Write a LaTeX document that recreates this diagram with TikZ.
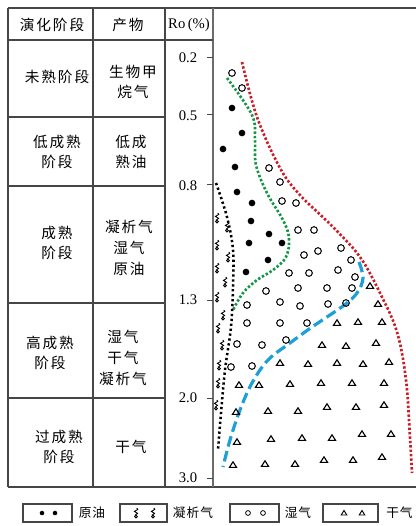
\documentclass[tikz,border=0pt]{standalone}
\usepackage{fontspec}
\setmainfont{Liberation Serif}
\newfontfamily\cjk[LetterSpace=13]{Noto Sans CJK SC}
\newfontfamily\cjkleg[LetterSpace=8]{Noto Sans CJK SC}
\definecolor{rd}{RGB}{200,30,40}
\definecolor{gn}{RGB}{20,150,70}
\definecolor{bl}{RGB}{30,160,215}
\definecolor{ln}{RGB}{70,70,70}
\begin{document}
\begin{tikzpicture}[x=0.75pt,y=-0.75pt,
  grid/.style={draw=ln, line width=1pt},
  cell/.style={font=\cjk\fontsize{11}{15.5}\selectfont, align=center, inner sep=0},
  legtext/.style={font=\cjkleg\fontsize{9.5}{10}\selectfont, inner sep=0},
  num/.style={font=\fontsize{11}{12}\selectfont, inner sep=0},
  dotline/.style={line width=2pt, dash pattern=on 1.8pt off 1.5pt},
  legbox/.style={draw=ln, line width=0.8pt},
  oilpt/.pic={\fill[black] (0,0) circle (2.5pt);},
  wetpt/.pic={\draw[line width=0.75pt] (0,0) circle (2.5pt);},
  drypt/.pic={\draw[line width=0.85pt, line join=miter] (-3.6,2.4) -- (3.6,2.4) -- (0,-3.2) -- cycle;},
  condpt/.pic={\draw[line width=0.65pt] (0.8,-5) -- (1.8,-3.6) -- (-1.6,-1.6) -- (1.6,0.4) -- (-1.2,2.4);
               \draw[line width=0.65pt] (0,3.6) circle (1.1pt);},
  oilleg/.pic={\fill[black] (0,0) circle (1.7pt);},
  wetleg/.pic={\draw[line width=0.6pt] (0,0) circle (1.8pt);},
  dryleg/.pic={\draw[line width=0.7pt, line join=miter] (-2.8,2) -- (2.8,2) -- (0,-2.5) -- cycle;}
]
\useasboundingbox (0,0) rectangle (416,526);

% table frame
\draw[grid] (8,8) -- (416,8);
\draw[grid] (8,487) -- (416,487);
\draw[grid] (8,8) -- (8,487);
\draw[grid] (93,8) -- (93,487);
\draw[grid] (165,8) -- (165,487);
\draw[draw=ln!80, line width=1.4pt] (213,8) -- (213,487);
\draw[grid] (8,40) -- (213,40);
\foreach \yy in {117,186,303,398} \draw[grid] (8,\yy) -- (165,\yy);

% header
\node[cell] (h1) at (52,25) {演化阶段};
\node[cell] (h2) at (128,25) {产物};
\node[num] (h3) at (189,25) {Ro\,(\%)};

% stages
\node[cell] (s1) at (57,77) {未熟阶段};
\node[cell] (s2) at (57,152) {低成熟\\阶段};
\node[cell] (s3) at (57,243) {成熟\\阶段};
\node[cell] (s4) at (50,353) {高成熟\\阶段};
\node[cell] (s5) at (59,447) {过成熟\\阶段};

% products
\node[cell] (p1) at (133,82) {生物甲\\烷气};
\node[cell] (p2) at (131,152) {低成\\熟油};
\node[cell] (p3) at (129,248) {凝析气\\湿气\\原油};
\node[cell] (p4) at (123,358) {湿气\\干气\\凝析气};
\node[cell] (p5) at (131,447) {干气};

% Ro axis
\foreach \yt/\yl/\v [count=\i] in {57/58/0.2, 114/116/0.5, 184/186/0.8, 300/300/1.3, 398/398/2.0, 478/478/3.0} {
  \draw[draw=ln, line width=0.7pt] (207,\yt) -- (213,\yt);
  \node[num] (ro\i) at (188,\yl) {\v};
}

% curves
\draw[rd, dotline] plot[smooth, tension=0.6] coordinates {(242,62) (257,117) (280,168) (300,195) (333,227) (360,257) (380,293) (397,332) (406,380) (410,437) (412,473)};
\draw[gn, dotline] plot[smooth, tension=0.6] coordinates {(227,78) (252,115) (255,140) (256,165) (267,193) (283,220) (289,238) (286,257) (273,270) (257,280) (243,293) (233,310)};
\draw[black, line width=1.9pt, dash pattern=on 1.7pt off 2pt] plot[smooth, tension=0.6] coordinates {(216,183) (227,217) (233,250) (233,287) (231,327) (225,370) (221,413) (218,450)};
\draw[bl, line width=2.4pt, dash pattern=on 8pt off 3.5pt] plot[smooth, tension=0.6] coordinates {(359,262) (363,278) (357,293) (343,306) (312,327) (290,343) (268,360) (252,383) (240,410) (230,440) (223,467)};

% oil
\foreach \p in {(232,108),(242,133),(223,149),(235,167),(237,192),(252,203),(251,221),(249,243),(269,234),(282,243),(268,260),(246,272)}
  \pic at \p {oilpt};
% wet gas
\foreach \p in {(232,73),(242,88),(269,168),(280,182),(282,201),(296,203),(298,230),(314,230),(304,255),(318,251),(341,248),(351,260),(289,273),(309,273),(338,270),(355,277),(298,288),(327,288),(352,288),(266,291),(247,305),(280,302),(300,306),(328,304),(346,303),(247,323),(280,323),(307,323),(237,344),(262,345),(286,340),(231,367),(252,366)}
  \pic at \p {wetpt};
% dry gas
\foreach \p in {(370,286),(378,304),(337,323),(358,322),(382,322),(322,345),(346,346),(376,343),(280,363),(308,364),(337,363),(363,364),(389,362),(239,385),(259,385),(290,384),(321,383),(352,383),(384,383),(236,412),(268,411),(298,411),(327,407),(356,407),(384,405),(237,442),(271,439),(302,438),(332,438),(362,434),(391,434),(233,465),(265,464),(295,464),(324,460),(353,460),(382,457)}
  \pic at \p {drypt};
% condensate
\foreach \p in {(217,218),(227,227),(217,245),(228,257),(217,268),(225,282),(217,297),(223,315),(218,328),(222,345),(219,365),(218,383),(216,405)}
  \pic at \p {condpt};

% legend
\draw[legbox] (23,504) rectangle (72,522);
\pic at (42,513) {oilleg}; \pic at (55,513) {oilleg};
\node[legtext] (l1) at (92,513) {原油};
\draw[legbox] (120,504) rectangle (167,522);
\pic at (136,513) {condpt}; \pic at (153,513) {condpt};
\node[legtext] (l2) at (193,513) {凝析气};
\draw[legbox] (230,504) rectangle (279,522);
\pic at (248,513) {wetleg}; \pic at (263,513) {wetleg};
\node[legtext] (l3) at (298,513) {湿气};
\draw[legbox] (323,504) rectangle (378,522);
\pic at (344,513) {dryleg}; \pic at (362,513) {dryleg};
\node[legtext, anchor=west] (l4) at (386,513) {干气};
\end{tikzpicture}
\end{document}
